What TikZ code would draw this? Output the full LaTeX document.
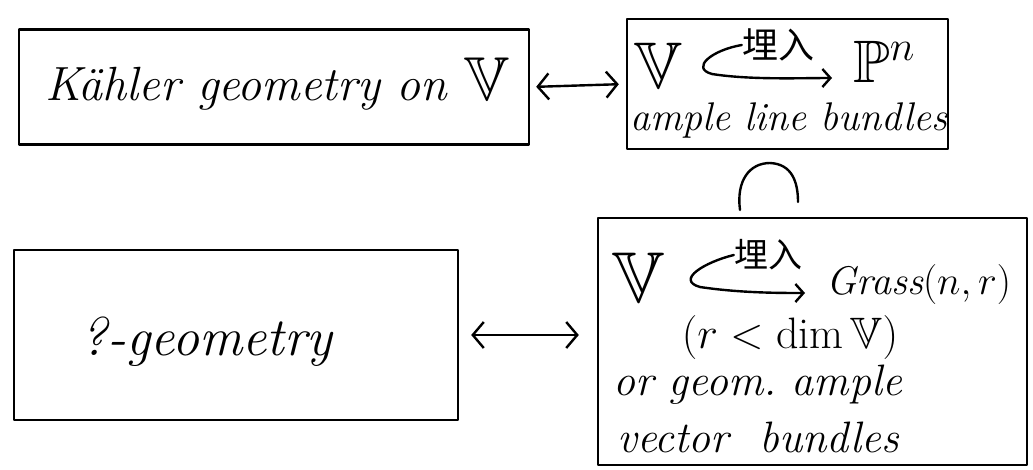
\RequirePackage{fix-cm}
\documentclass[tikz,border=0pt]{standalone}
\usepackage{amssymb}
\usepackage{fontspec}
\newfontfamily\cjk{Noto Sans CJK SC}
\usetikzlibrary{arrows.meta}
\begin{document}
\begin{tikzpicture}[x=1pt,y=-1pt,line cap=round,line join=round,
  stroke/.style={line width=2.4pt},
  box/.style={draw,stroke,inner sep=0pt},
  txt/.style={inner sep=0pt,font=\fontsize{44}{48}\selectfont\itshape},
  big/.style={inner sep=0pt,font=\fontsize{66}{66}\selectfont},
  emb/.style={inner sep=0pt,font=\fontsize{36}{36}\selectfont\cjk},
  dbl/.style={stroke,{Straight Barb[length=11pt,width=26pt]}-{Straight Barb[length=11pt,width=26pt]}},
  hook/.style={stroke,-{Straight Barb[length=8pt,width=18pt]}}]
\useasboundingbox (0,0) rectangle (1033,469);
% boxes
\node[box,minimum width=510pt,minimum height=115pt] (A) at (274,87) {};
\node[box,minimum width=321pt,minimum height=130pt] (B) at (787.5,84) {};
\node[box,minimum width=444pt,minimum height=170pt] (C) at (236,335) {};
\node[box,minimum width=429pt,minimum height=247pt] (D) at (812.5,341.5) {};
% box A text
\node[txt,font=\fontsize{48}{52}\selectfont\itshape,anchor=base west] (tA) at (45,100) {Kähler geometry on {\fontsize{62}{62}\selectfont$\mathbb{V}$}};
% box B content
\node[big] (vB) at (658,66) {$\mathbb{V}$};
\node[big,font=\fontsize{60}{60}\selectfont] (pB) at (884,62) {$\mathbb{P}^n$};
\node[emb] (eB) at (778,45) {埋入};
\coordinate (hB) at (832,78);
\draw[hook] (eB.west) .. controls (712,50) and (690,68) .. (712,74) .. controls (750,80) and (800,78) .. (hB);
\node[txt,font=\fontsize{40}{44}\selectfont\itshape] (lB) at (789,120) {ample line bundles};
% box C text
\node[txt,font=\fontsize{54}{58}\selectfont\itshape,anchor=base west] (tC) at (80,355) {?-geometry};
% box D content
\node[big,font=\fontsize{72}{72}\selectfont] (vD) at (638,278) {$\mathbb{V}$};
\node[emb,font=\fontsize{34}{34}\selectfont\cjk] (eD) at (768,255) {埋入};
\coordinate (hD) at (805,293);
\draw[hook] (eD.west) .. controls (705,262) and (675,280) .. (700,287) .. controls (740,293) and (780,293) .. (hD);
\node[txt,font=\fontsize{40}{44}\selectfont\itshape,anchor=west] (gD) at (826,284) {Grass$(n,r)$};
\node[txt] (rD) at (790,337) {$(r<\dim\mathbb{V})$};
\node[txt,anchor=west] (oD) at (613,385) {or geom.\ ample};
\node[txt,anchor=west] (bD) at (617,437) {vector\ \ bundles};
% connectors
\draw[dbl,shorten <=6pt,shorten >=7pt] (A.east) -- (B.west);
\draw[dbl,shorten <=12pt,shorten >=18pt] (C.east) -- (C.east -| D.west);
% inclusion symbol between B and D
\draw[stroke] (740,210) .. controls (736,180) and (750,163) .. (770,163) .. controls (792,164) and (798,182) .. (798,202);
\end{tikzpicture}
\end{document}
